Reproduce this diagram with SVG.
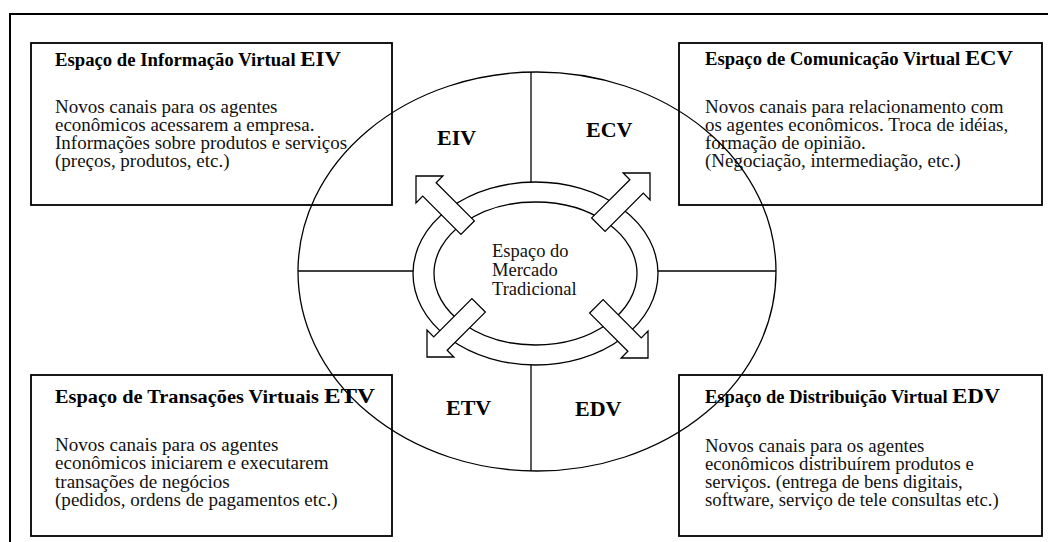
<svg xmlns="http://www.w3.org/2000/svg" width="1048" height="542" viewBox="0 0 1048 542">
<style>
.frame{fill:none;stroke:#000;stroke-width:2}
.box{fill:#fff;stroke:#000;stroke-width:1.8}
.ell{fill:none;stroke:#000;stroke-width:1.3}
.ln{fill:none;stroke:#000;stroke-width:1.3}
.arr{fill:#fff;stroke:#000;stroke-width:1.3;stroke-linejoin:miter}
.t{font-family:"Liberation Serif","Times New Roman",serif;fill:#000}
.ttl{font-size:18px;font-weight:bold}
.abbr{font-size:22px;font-weight:bold}
.body{font-size:18px;fill:#111}
.q{font-size:22px;font-weight:bold}
.c{font-size:18.5px;fill:#111}
</style>
<defs>
<polygon id="barrow" points="0,0 -19,-19 -19,-9.5 -73,-9.5 -73,9.5 -19,9.5 -19,19"/>
</defs>
<rect id="frame" class="frame" x="10" y="14" width="1060" height="560"/>
<g id="box-eiv">
<rect class="box" x="31" y="43" width="361" height="162"/>
<text class="t" x="55" y="66" textLength="286" lengthAdjust="spacingAndGlyphs"><tspan class="ttl">Espaço de Informação Virtual </tspan><tspan class="abbr">EIV</tspan></text>
<g transform="translate(55,0) scale(1.055,1) translate(-55,0)">
<text class="t body" x="55" y="113">Novos canais para os agentes</text>
<text class="t body" x="55" y="131">econômicos acessarem a empresa.</text>
<text class="t body" x="55" y="149">Informações sobre produtos e serviços</text>
<text class="t body" x="55" y="167">(preços, produtos, etc.)</text>
</g>
</g>
<g id="box-ecv">
<rect class="box" x="679" y="43" width="363" height="162"/>
<text class="t" x="705" y="65" textLength="308" lengthAdjust="spacingAndGlyphs"><tspan class="ttl">Espaço de Comunicação Virtual </tspan><tspan class="abbr">ECV</tspan></text>
<g transform="translate(705,0) scale(1.055,1) translate(-705,0)">
<text class="t body" x="705" y="113">Novos canais para relacionamento com</text>
<text class="t body" x="705" y="131">os agentes econômicos. Troca de idéias,</text>
<text class="t body" x="705" y="149">formação de opinião.</text>
<text class="t body" x="705" y="167">(Negociação, intermediação, etc.)</text>
</g>
</g>
<g id="box-etv">
<rect class="box" x="31" y="375" width="361" height="161"/>
<text class="t" x="55" y="403" textLength="320" lengthAdjust="spacingAndGlyphs"><tspan class="ttl">Espaço de Transações Virtuais </tspan><tspan class="abbr">ETV</tspan></text>
<g transform="translate(55,0) scale(1.06,1) translate(-55,0)">
<text class="t body" x="55" y="451">Novos canais para os agentes</text>
<text class="t body" x="55" y="469.5">econômicos iniciarem e executarem</text>
<text class="t body" x="55" y="488">transações de negócios</text>
<text class="t body" x="55" y="506.5">(pedidos, ordens de pagamentos etc.)</text>
</g>
</g>
<g id="box-edv">
<rect class="box" x="679" y="375" width="363" height="161"/>
<text class="t" x="705" y="403" textLength="295" lengthAdjust="spacingAndGlyphs"><tspan class="ttl">Espaço de Distribuição Virtual </tspan><tspan class="abbr">EDV</tspan></text>
<g transform="translate(705,0) scale(1.04,1) translate(-705,0)">
<text class="t body" x="705" y="452">Novos canais para os agentes</text>
<text class="t body" x="705" y="470">econômicos distribuírem produtos e</text>
<text class="t body" x="705" y="488">serviços. (entrega de bens digitais,</text>
<text class="t body" x="705" y="506">software, serviço de tele consultas etc.)</text>
</g>
</g>
<g id="virtual-space">
<ellipse class="ell" cx="537" cy="271.5" rx="239" ry="199.5"/>
</g>
<g id="market">
<ellipse class="ell" cx="535.5" cy="273.5" rx="122.5" ry="91.5"/>
<ellipse class="ell" cx="535.5" cy="273.5" rx="101.5" ry="71.5"/>
<text class="t c" x="492" y="257">Espaço do</text>
<text class="t c" x="492" y="276">Mercado</text>
<text class="t c" x="492" y="295">Tradicional</text>
</g>
<g id="connectors">
<line class="ln" x1="531" y1="72" x2="531" y2="182"/>
<line class="ln" x1="531" y1="365" x2="531" y2="471"/>
<line class="ln" x1="298" y1="271" x2="413" y2="271"/>
<line class="ln" x1="658" y1="271" x2="776" y2="271"/>
<use href="#barrow" class="arr" transform="translate(416,176) rotate(-135)"/>
<use href="#barrow" class="arr" transform="translate(650,173) rotate(-45)"/>
<use href="#barrow" class="arr" transform="translate(427,357) rotate(135)"/>
<use href="#barrow" class="arr" transform="translate(648,358) rotate(45)"/>
</g>
<g id="quadrant-labels">
<text class="t q" x="437" y="145">EIV</text>
<text class="t q" x="586" y="137">ECV</text>
<text class="t q" x="446" y="415">ETV</text>
<text class="t q" x="575" y="416">EDV</text>
</g>
</svg>
